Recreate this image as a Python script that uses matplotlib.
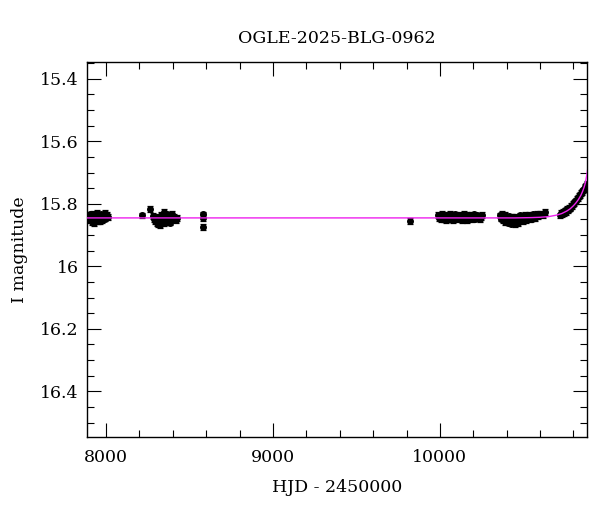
import matplotlib
matplotlib.use("Agg")
import matplotlib.pyplot as plt
from matplotlib.ticker import MultipleLocator, FuncFormatter

# ---- data (HJD-2450000, I mag) ----
t_s1 = [7892, 7897, 7901, 7905, 7909, 7913, 7916, 7920, 7924, 7928, 7931, 7935, 7939, 7943, 7946,
        7950, 7954, 7958, 7962, 7966, 7970, 7974, 7978, 7983, 7987, 7992, 7996, 8001, 8006, 8011]
m_s1 = [15.838, 15.842, 15.853, 15.834, 15.845, 15.858, 15.840, 15.831, 15.848, 15.861, 15.843, 15.836,
        15.851, 15.846, 15.830, 15.856, 15.841, 15.849, 15.838, 15.854, 15.834, 15.844, 15.851, 15.837,
        15.843, 15.829, 15.847, 15.840, 15.835, 15.842]

t_s2 = [8213, 8263, 8282, 8288, 8293, 8298, 8303, 8308, 8312, 8317, 8322, 8326, 8331, 8336, 8340, 8345,
        8350, 8355, 8360, 8365, 8370, 8375, 8380, 8386, 8392, 8398, 8404, 8410, 8417, 8424,
        8578, 8580, 8583]
m_s2 = [15.837, 15.816, 15.838, 15.848, 15.855, 15.841, 15.861, 15.849, 15.866, 15.844, 15.857, 15.869,
        15.836, 15.852, 15.843, 15.862, 15.827, 15.848, 15.858, 15.834, 15.853, 15.844, 15.838, 15.860,
        15.846, 15.832, 15.850, 15.841, 15.853, 15.845,
        15.834, 15.845, 15.874]

t_s3 = [9822, 9990, 9995, 10000, 10005, 10010, 10015, 10020, 10025, 10030, 10035, 10040, 10045, 10050,
        10055, 10060, 10065, 10070, 10075, 10080, 10085, 10090, 10095, 10100, 10105, 10110, 10115,
        10120, 10125, 10130, 10135, 10140, 10145, 10150, 10155, 10160, 10165, 10170, 10175, 10180,
        10185, 10190, 10195, 10200, 10205, 10210, 10215, 10220, 10225, 10232, 10240, 10248, 10255]
m_s3 = [15.855, 15.835, 15.846, 15.840, 15.850, 15.833, 15.844, 15.837, 15.849, 15.839, 15.853, 15.835,
        15.845, 15.838, 15.850, 15.832, 15.842, 15.848, 15.836, 15.852, 15.841, 15.834, 15.846, 15.838,
        15.850, 15.842, 15.835, 15.847, 15.840, 15.852, 15.837, 15.844, 15.833, 15.849, 15.841, 15.836,
        15.851, 15.843, 15.837, 15.846, 15.835, 15.842, 15.849, 15.839, 15.834, 15.847, 15.841, 15.837,
        15.845, 15.839, 15.848, 15.842, 15.836]

t_s4 = [10362, 10367, 10372, 10377, 10382, 10387, 10392, 10397, 10402, 10407, 10412, 10417, 10422,
        10427, 10432, 10437, 10442, 10447, 10452, 10457, 10462, 10467, 10472, 10477, 10482, 10487,
        10492, 10497, 10502, 10507, 10512, 10517, 10522, 10527, 10532, 10537, 10542, 10547, 10552,
        10557, 10562, 10567, 10572, 10580, 10590, 10600, 10615, 10628]
m_s4 = [15.837, 15.847, 15.832, 15.852, 15.842, 15.858, 15.836, 15.849, 15.844, 15.860, 15.840, 15.853,
        15.846, 15.863, 15.843, 15.856, 15.849, 15.866, 15.841, 15.854, 15.847, 15.861, 15.844, 15.852,
        15.837, 15.849, 15.843, 15.856, 15.839, 15.847, 15.836, 15.851, 15.842, 15.846, 15.835, 15.849,
        15.841, 15.838, 15.847, 15.834, 15.843, 15.837, 15.845, 15.833, 15.840, 15.832, 15.837, 15.827]

t_s5 = [10720, 10726, 10732, 10738, 10744, 10750, 10756, 10762, 10768, 10774, 10780, 10786, 10792,
        10798, 10804, 10810, 10816, 10822, 10828, 10834, 10840, 10846, 10852, 10858, 10863, 10868,
        10872, 10876, 10879]
m_s5 = [15.837, 15.830, 15.834, 15.826, 15.830, 15.821, 15.826, 15.817, 15.821, 15.812, 15.815, 15.807,
        15.806, 15.800, 15.797, 15.792, 15.790, 15.783, 15.781, 15.775, 15.772, 15.766, 15.763, 15.757,
        15.754, 15.749, 15.746, 15.741, 15.737]

err_mag = 0.009

# model curve
t_model = [7880, 9000, 10000, 10450, 10550, 10600, 10650, 10700, 10730, 10760, 10780, 10800, 10815,
           10830, 10845, 10855, 10865, 10872, 10880, 10885]
m_model = [15.845, 15.845, 15.845, 15.845, 15.844, 15.843, 15.841, 15.836, 15.831, 15.823, 15.816,
           15.806, 15.797, 15.786, 15.772, 15.760, 15.745, 15.731, 15.708, 15.690]

title = "OGLE-2025-BLG-0962"
xlabel = "HJD - 2450000"
ylabel = "I magnitude"

plt.rcParams['font.family'] = ['DejaVu Serif']
fig = plt.figure(figsize=(6.0, 5.12), dpi=100)
ax = fig.add_axes([0.145, 0.1465, 0.833, 0.7325])

t_all = t_s1 + t_s2 + t_s3 + t_s4 + t_s5
m_all = m_s1 + m_s2 + m_s3 + m_s4 + m_s5
ax.errorbar(t_all, m_all, yerr=err_mag, fmt='o', color='black', ms=4, elinewidth=0.9,
            capsize=2.5, capthick=0.9, zorder=2)
ax.plot(t_model, m_model, color='#ee22ee', lw=1.0, zorder=3)

ax.set_xlim(7886, 10880)
ax.set_ylim(16.546, 15.346)

ax.xaxis.set_major_locator(MultipleLocator(1000))
ax.xaxis.set_minor_locator(MultipleLocator(200))
ax.yaxis.set_major_locator(MultipleLocator(0.2))
ax.yaxis.set_minor_locator(MultipleLocator(0.05))
ax.yaxis.set_major_formatter(FuncFormatter(lambda v, p: f"{v:g}"))
ax.tick_params(which='both', direction='in', top=True, right=True, labelsize=12.5, width=0.8, color='black')
ax.tick_params(which='major', length=10)
ax.tick_params(axis='x', which='major', pad=9)
ax.tick_params(axis='y', which='major', pad=6)
ax.tick_params(which='minor', length=5)
for s in ax.spines.values():
    s.set_linewidth(1.0)

ax.set_title(title, fontsize=12.5, pad=14)
ax.set_xlabel(xlabel, fontsize=12.5, labelpad=9)
ax.set_ylabel(ylabel, fontsize=12.5, labelpad=9)

fig.savefig("out.png", dpi=100)
